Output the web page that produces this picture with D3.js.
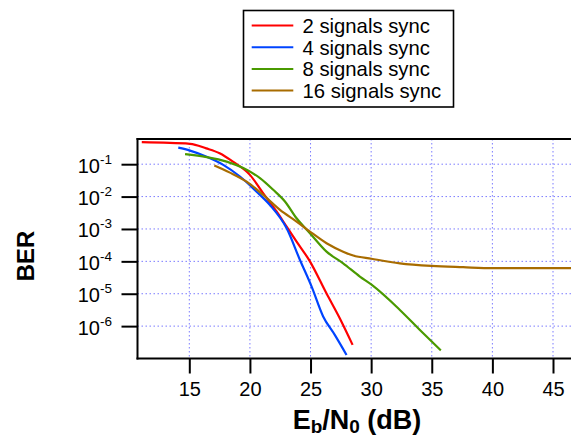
<!DOCTYPE html>
<html><head><meta charset="utf-8">
<script src="https://cdn.jsdelivr.net/npm/d3@7"></script>
<style>body{margin:0;background:#fff}svg{display:block}text{font-family:"Liberation Sans",Arial,Helvetica,sans-serif}</style>
</head><body><svg id="c" width="571" height="439"></svg>
<script>
const xTicks = [15, 20, 25, 30, 35, 40, 45];
const yTickExp = [-1, -2, -3, -4, -5, -6];
const seriesNames = ["2 signals sync", "4 signals sync", "8 signals sync", "16 signals sync"];
const seriesColors = ["#ff0000", "#0044ff", "#4a9a00", "#a86c00"];
// [Eb/N0 dB, log10 BER]
const s2 = [[11.08,-0.32],[15.06,-0.37],[16.4,-0.51],[17.5,-0.66],[18.6,-0.92],[20.0,-1.33],[21.1,-1.9],[22.2,-2.46],[23.03,-2.93],[23.85,-3.39],[24.95,-4.0],[26.3,-4.98],[27.4,-5.75],[28.47,-6.58]];
const s4 = [[14.09,-0.49],[15.06,-0.58],[16.43,-0.77],[17.8,-1.02],[19.18,-1.38],[20.55,-1.85],[21.65,-2.26],[23.03,-2.98],[24.12,-3.95],[25.09,-4.78],[26.04,-5.7],[27.0,-6.27],[27.97,-6.89]];
const s8 = [[14.65,-0.69],[16.43,-0.78],[18.08,-0.92],[19.45,-1.12],[20.83,-1.43],[21.92,-1.79],[22.89,-2.15],[23.85,-2.67],[24.95,-3.13],[26.32,-3.7],[27.69,-4.06],[29.07,-4.47],[30.03,-4.72],[32.37,-5.5],[34.0,-6.11],[35.75,-6.75]];
const s16 = [[17.06,-1.04],[18.35,-1.26],[19.73,-1.54],[21.1,-1.95],[22.48,-2.41],[23.85,-2.77],[24.95,-3.08],[26.32,-3.44],[27.69,-3.7],[28.52,-3.82],[30.03,-3.92],[32.37,-4.06],[34.98,-4.14],[37.58,-4.18],[40.05,-4.21],[46.6,-4.21]];
const allSeries = [s2, s4, s8, s16];

const svg = d3.select("#c");
const L = 137.5, T = 139, B = 358.5, R = 600;
const x = d3.scaleLinear().domain([15, 45]).range([189.3, 553]);
const y = d3.scaleLog().domain([1e-7, 0.6]).range([B, T]);

svg.append("defs").append("clipPath").attr("id","clip").append("rect")
  .attr("x", L).attr("y", T).attr("width", R-L).attr("height", B-T);

// grid
const g = svg.append("g");
g.selectAll(".vg").data(xTicks).join("line")
  .attr("x1", d=>x(d)).attr("x2", d=>x(d)).attr("y1", T).attr("y2", B)
  .attr("stroke", "#7b7bff").attr("stroke-width", 1).attr("stroke-dasharray", "1.5,2.5");
g.selectAll(".hg").data(yTickExp).join("line")
  .attr("x1", L).attr("x2", R).attr("y1", d=>y(Math.pow(10,d))).attr("y2", d=>y(Math.pow(10,d)))
  .attr("stroke", "#7b7bff").attr("stroke-width", 1).attr("stroke-dasharray", "1.5,2.5");

// curves
const line = d3.line().x(d=>x(d[0])).y(d=>y(Math.pow(10,d[1]))).curve(d3.curveMonotoneX);
const cg = svg.append("g").attr("clip-path","url(#clip)");
allSeries.forEach((s,i)=>{
  cg.append("path").attr("d", line(s)).attr("fill","none")
    .attr("stroke", seriesColors[i]).attr("stroke-width", 2.2);
});

// frame
svg.append("line").attr("x1", L).attr("x2", L).attr("y1", T-1).attr("y2", B+1).attr("stroke","#000").attr("stroke-width",2);
svg.append("line").attr("x1", L-1).attr("x2", R).attr("y1", T).attr("y2", T).attr("stroke","#000").attr("stroke-width",2.2);
svg.append("line").attr("x1", L-1).attr("x2", R).attr("y1", B).attr("y2", B).attr("stroke","#000").attr("stroke-width",2.2);

// x axis
const xa = svg.append("g").attr("transform", `translate(0,${B})`)
  .call(d3.axisBottom(x).tickValues(xTicks).tickSize(15).tickPadding(8).tickFormat(d3.format("d")));
xa.select(".domain").remove();
xa.selectAll(".tick line").attr("stroke","#000").attr("stroke-width",2);
xa.selectAll(".tick text").attr("font-size", 20).attr("fill","#000")
  .attr("font-family", '"Liberation Sans",Arial,sans-serif').attr("dy", "0.72em");

// y axis
const ya = svg.append("g").attr("transform", `translate(${L},0)`)
  .call(d3.axisLeft(y).tickValues(yTickExp.map(e=>Math.pow(10,e))).tickSize(16).tickFormat(""));
ya.select(".domain").remove();
ya.selectAll(".tick line").attr("stroke","#000").attr("stroke-width",2);
yTickExp.forEach(e=>{
  const t = svg.append("text").attr("x", 112).attr("y", y(Math.pow(10,e)) + 8.5)
    .attr("text-anchor","end").attr("font-size", 20).attr("fill","#000");
  t.append("tspan").text("10");
  t.append("tspan").attr("dy", -9).attr("font-size", 13.5).text(String(e));
});

// axis titles
const xt = svg.append("text").attr("x", 357).attr("y", 429).attr("text-anchor","middle")
  .attr("font-size", 27).attr("font-weight","bold").attr("fill","#000");
xt.append("tspan").text("E");
xt.append("tspan").attr("dy", 4).attr("font-size", 19).text("b");
xt.append("tspan").attr("dy", -4).text("/N");
xt.append("tspan").attr("dy", 4).attr("font-size", 19).text("0");
xt.append("tspan").attr("dy", -4).text(" (dB)");

svg.append("text").attr("transform","translate(34,256) rotate(-90)").attr("text-anchor","middle")
  .attr("font-size", 24).attr("font-weight","bold").attr("fill","#000").text("BER");

// legend
const lg = svg.append("g");
lg.append("rect").attr("x", 243.5).attr("y", 10.5).attr("width", 210).attr("height", 96.5)
  .attr("fill","#fff").attr("stroke","#000").attr("stroke-width",1.6);
seriesNames.forEach((n,i)=>{
  const yy = 25.5 + i*21.7;
  lg.append("line").attr("x1", 251.7).attr("x2", 293.3).attr("y1", yy).attr("y2", yy)
    .attr("stroke", seriesColors[i]).attr("stroke-width", 2);
  lg.append("text").attr("x", 302.5).attr("y", yy + 7.5).attr("font-size", 20.3).attr("fill","#000").text(n);
});
</script></body></html>
